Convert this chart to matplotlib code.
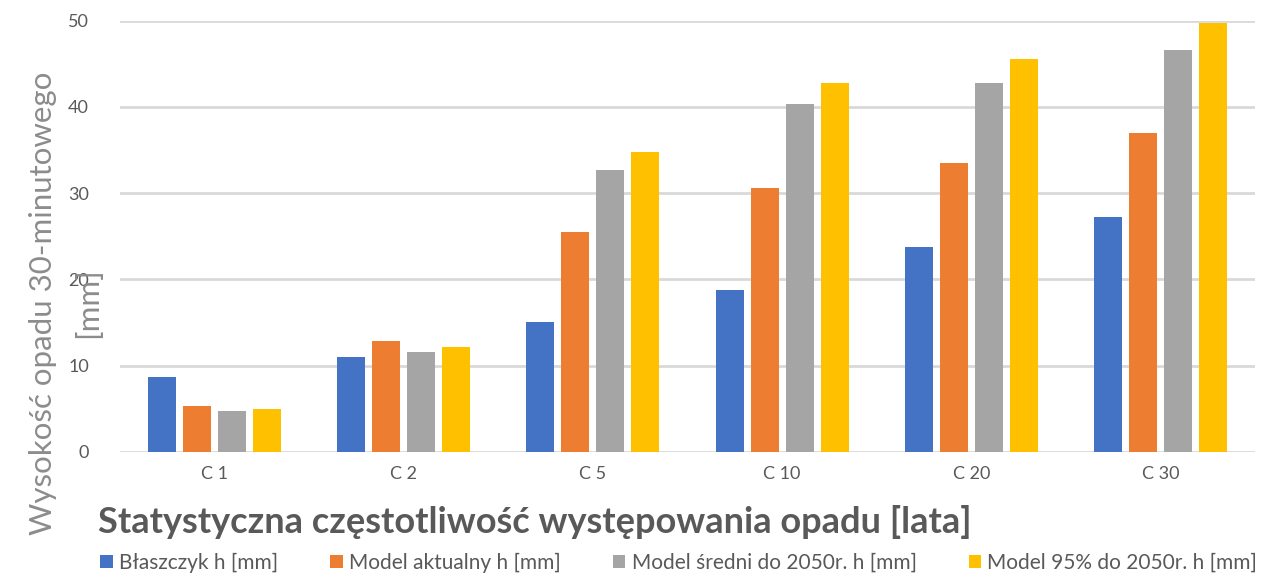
import numpy as np
import matplotlib
matplotlib.use("Agg")
import matplotlib.pyplot as plt

plt.rcParams['font.family'] = ['Lato', 'DejaVu Sans']

categories = ["C 1", "C 2", "C 5", "C 10", "C 20", "C 30"]
blaszczyk = [8.7, 11.0, 15.0, 18.8, 23.8, 27.2]
model_akt = [5.3, 12.9, 25.5, 30.6, 33.5, 37.0]
model_sr = [4.7, 11.6, 32.7, 40.3, 42.8, 46.6]
model_95 = [5.0, 12.2, 34.8, 42.8, 45.6, 49.7]

series_names = ["Błaszczyk h [mm]", "Model aktualny h [mm]",
                "Model średni do 2050r. h [mm]", "Model 95% do 2050r. h [mm]"]
colors = ["#4472C4", "#ED7D31", "#A5A5A5", "#FFC000"]

fig = plt.figure(figsize=(12.73, 5.77), dpi=100)
ax = fig.add_axes([0.094, 0.217, 0.892, 0.747])

x = np.arange(len(categories))
step = 0.185
width = 0.148
all_series = [blaszczyk, model_akt, model_sr, model_95]
for i, (vals, name, c) in enumerate(zip(all_series, series_names, colors)):
    ax.bar(x + (i - 1.5) * step, vals, width, color=c, label=name, zorder=3)

ax.set_xlim(-0.5, len(categories) - 0.5)
ax.set_ylim(0, 50)
ax.set_yticks([0, 10, 20, 30, 40, 50])
ax.set_xticks(x)
ax.set_xticklabels(categories)
ax.yaxis.grid(True, color="#d9d9d9", linewidth=2, zorder=0)
ax.set_axisbelow(True)
for s in ax.spines.values():
    s.set_visible(False)
ax.tick_params(axis='both', length=0, labelsize=13, colors="#595959")
ax.tick_params(axis='y', pad=22)
ax.tick_params(axis='x', pad=10)

# y label in two pieces, "[mm]" sits over the "20" tick like in the original
fig.text(0.034, 0.475, "Wysokość opadu 30-minutowego", rotation=90,
         ha='center', va='center', fontsize=22.5, color="#8c8c8c")
fig.text(0.069, 0.475, "[mm]", rotation=90,
         ha='center', va='center', fontsize=22.5, color="#8c8c8c")
fig.text(0.077, 0.095, "Statystyczna częstotliwość występowania opadu [lata]",
         ha='left', va='center', fontsize=26, fontweight='bold', color="#595959")

fig.legend(loc='lower left', bbox_to_anchor=(0.064, -0.025), ncol=4, frameon=False,
           fontsize=15, labelcolor="#595959", handlelength=0.6, handleheight=0.6,
           handletextpad=0.3, columnspacing=2.5)

fig.savefig("out.png", dpi=100)
